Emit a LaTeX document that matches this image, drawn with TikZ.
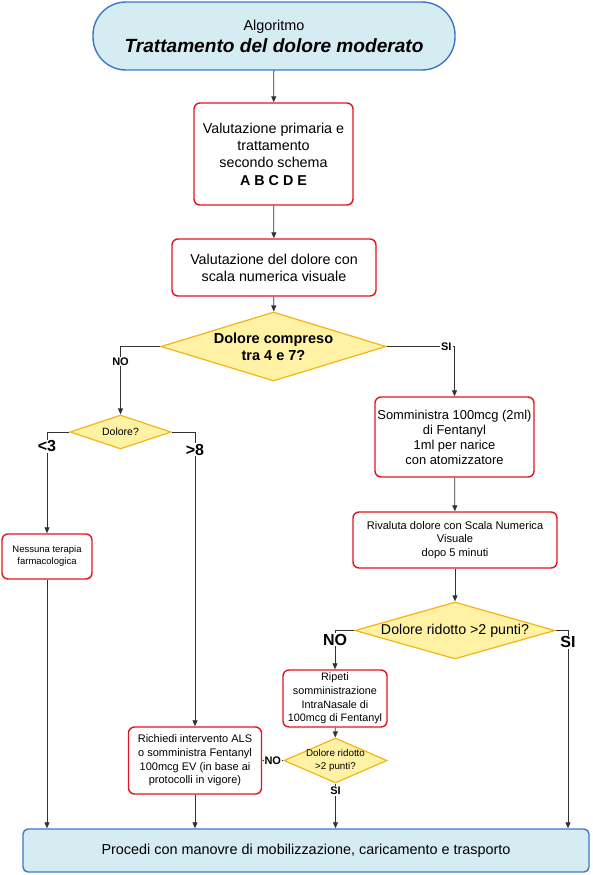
\documentclass[tikz,border=0pt]{standalone}
\usepackage{fontspec}
\setmainfont{Liberation Sans}
\usetikzlibrary{shapes.geometric,arrows.meta}
\definecolor{boxred}{RGB}{228,20,30}
\definecolor{termfill}{RGB}{214,236,243}
\definecolor{termline}{RGB}{60,120,200}
\definecolor{diafill}{RGB}{255,242,165}
\definecolor{dialine}{RGB}{245,180,20}
\definecolor{conn}{RGB}{50,50,50}
\newcommand{\fs}[2]{\fontsize{#1}{#2}\selectfont}
\tikzset{
  terminal/.style={draw=termline,fill=termfill,line width=1.4pt,rectangle,align=center,inner sep=0pt},
  stepbox/.style={draw=boxred,fill=white,line width=1.4pt,rectangle,rounded corners=6pt,align=center,inner sep=0pt},
  decision/.style={draw=dialine,fill=diafill,line width=1.2pt,diamond,inner sep=0pt,shape aspect=2},
  arr/.style={draw=conn,line width=0.8pt,-{Triangle[length=6pt,width=5pt]}},
  lab/.style={fill=white,inner sep=1pt,font=\bfseries\fs{11}{13}},
  biglab/.style={fill=white,inner sep=1pt,font=\bfseries\fs{16}{18}}
}
\begin{document}
\begin{tikzpicture}[x=1pt,y=-1pt]
\useasboundingbox (0,0) rectangle (592,875);
% nodes
\node[terminal,rounded corners=33pt,minimum width=362pt,minimum height=68pt] (top) at (274,36)
  {{\fs{14.4}{16}Algoritmo}\\[4pt]{\fs{19.1}{22}\bfseries\itshape Trattamento del dolore moderato}};
\node[stepbox,minimum width=159pt,minimum height=102pt,font=\fs{14.3}{17.4}] (b1) at (273.5,154)
  {Valutazione primaria e\\trattamento\\secondo schema\\\textbf{A B C D E}};
\node[stepbox,minimum width=204pt,minimum height=57pt,font=\fs{14.3}{17}] (b2) at (274,267.5)
  {Valutazione del dolore con\\scala numerica visuale};
\node[decision,minimum width=225pt,minimum height=69pt,
  label={[font=\bfseries\fs{14.5}{17},align=center]center:Dolore compreso\\tra 4 e 7?}] (d1) at (273.5,346.5) {};
\node[decision,minimum width=101pt,minimum height=34pt,
  label={[font=\fs{10.5}{12}]center:Dolore?}] (d2) at (120.5,432) {};
\node[stepbox,minimum width=90pt,minimum height=45pt,font=\fs{9.5}{12}] (b7) at (47,556.5)
  {Nessuna terapia\\farmacologica};
\node[stepbox,minimum width=159pt,minimum height=80pt,font=\fs{12.9}{15}] (b3) at (454.5,437)
  {Somministra 100mcg (2ml)\\di Fentanyl\\1ml per narice\\con atomizzatore};
\node[stepbox,minimum width=204pt,minimum height=56pt,font=\fs{11.1}{13.5}] (b4) at (455,540)
  {Rivaluta dolore con Scala Numerica\\Visuale\\dopo 5 minuti};
\node[decision,minimum width=200pt,minimum height=57pt,
  label={[font=\fs{14.2}{15}]center:Dolore ridotto >2 punti?}] (d3) at (455,630.5) {};
\node[stepbox,minimum width=104pt,minimum height=57pt,font=\fs{10.8}{13.7}] (b5) at (335,698.5)
  {Ripeti\\somministrazione\\IntraNasale di\\100mcg di Fentanyl};
\node[decision,minimum width=103pt,minimum height=45pt,
  label={[font=\fs{9.8}{12.5},align=center]center:Dolore ridotto\\>2 punti?}] (d4) at (335.5,760.5) {};
\node[stepbox,minimum width=133pt,minimum height=67pt,font=\fs{11}{13.6}] (b6) at (195,760.5)
  {Richiedi intervento ALS\\o somministra Fentanyl\\100mcg EV (in base ai\\protocolli in vigore)};
\node[terminal,rounded corners=5pt,minimum width=566pt,minimum height=43pt,font=\fs{14.4}{16}] (bot) at (306,850.5)
  {Procedi con manovre di mobilizzazione, caricamento e trasporto};
\coordinate (sicorner) at (568,630.5);
% connectors
\draw[arr] (top) -- (b1);
\draw[arr] (b1) -- (b2);
\draw[arr] (b2) -- (d1);
\draw[arr] (d1.west) -| node[lab,pos=0.61] {NO} (d2.north);
\draw[arr] (d1.east) -| node[lab,pos=0.44] {SI} (b3.north);
\draw[arr] (d2.west) -| node[biglab,pos=0.57] {<3} (b7.north);
\draw[arr] (d2.east) -| node[biglab,pos=0.53] {>8} (b6.north);
\draw[arr] (b7.south) -- (b7.south |- bot.north);
\draw[arr] (b6.south) -- (b6.south |- bot.north);
\draw[arr] (b3) -- (b4);
\draw[arr] (b4) -- (d3);
\draw[arr] (d3.west) -| node[biglab,pos=0.62] {NO} (b5.north);
\draw[arr] (d3.east) -- (sicorner) -- node[biglab,pos=0.06] {SI} (sicorner |- bot.north);
\draw[arr] (b5) -- (d4);
\draw[arr] (d4.west) -- node[lab] {NO} (b6.east);
\draw[arr] (d4.south) -- node[lab,pos=0.17] {SI} (d4.south |- bot.north);
\end{tikzpicture}
\end{document}
